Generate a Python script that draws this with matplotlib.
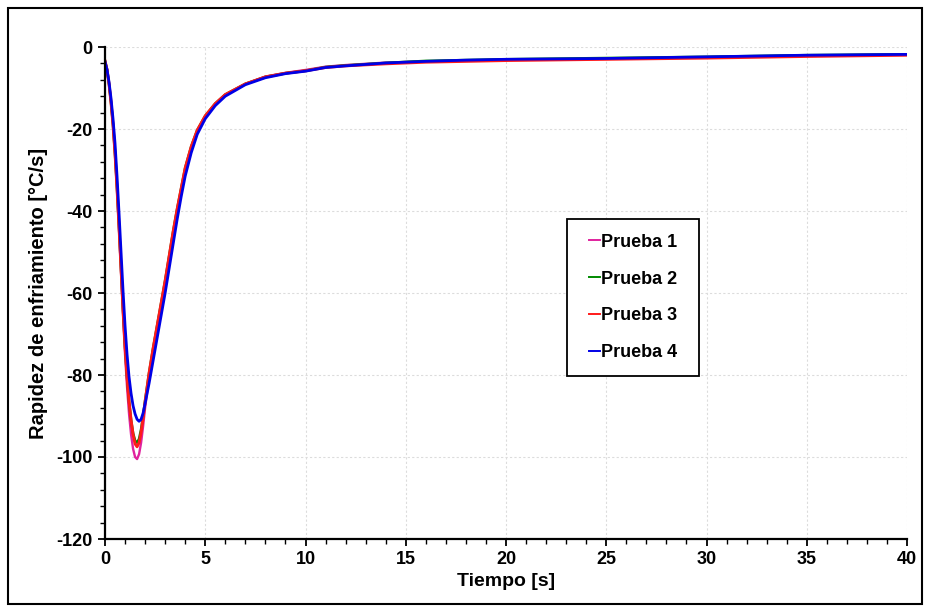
import matplotlib
matplotlib.use("Agg")
import matplotlib.pyplot as plt
from matplotlib.patches import Rectangle
from matplotlib.ticker import MultipleLocator

# Time axis shared by the four tests [s]
tiempo = [0.0, 0.1, 0.2, 0.3, 0.4, 0.5, 0.6, 0.7, 0.8, 0.9,
          1.0, 1.1, 1.2, 1.3, 1.4, 1.5, 1.6, 1.7, 1.8, 1.9,
          2.0, 2.2, 2.4, 2.6, 2.8, 3.0, 3.2, 3.4, 3.6, 3.8,
          4.0, 4.3, 4.6, 5.0, 5.5, 6.0, 7.0, 8.0, 9.0, 10.0,
          11.0, 12.0, 14.0, 16.0, 18.0, 20.0, 25.0, 30.0, 35.0, 40.0]

# Cooling rate [°C/s] for each test
prueba_1 = [-3.4, -5.5, -9.0, -13.5, -19.0, -26.0, -34.5, -44.5, -55.0, -65.5,
            -75.0, -83.0, -89.5, -94.5, -98.0, -100.0, -100.5, -99.3, -96.5, -92.5,
            -88.0, -80.5, -74.0, -68.5, -63.0, -57.5, -51.5, -45.5, -40.0, -35.0,
            -30.0, -24.6, -20.6, -17.0, -13.9, -11.7, -9.0, -7.2, -6.3, -5.6,
            -4.8, -4.4, -3.8, -3.5, -3.3, -3.1, -2.9, -2.5, -2.1, -1.8]

prueba_2 = [-3.4, -5.5, -9.0, -13.5, -19.0, -26.0, -34.5, -44.0, -54.0, -64.0,
            -73.0, -80.5, -86.5, -91.0, -94.2, -96.0, -96.5, -95.6, -93.3, -90.0,
            -86.3, -79.5, -73.5, -68.0, -62.5, -57.0, -51.0, -45.0, -39.5, -34.5,
            -29.5, -24.3, -20.3, -16.8, -13.8, -11.6, -9.0, -7.3, -6.4, -5.8,
            -4.9, -4.5, -3.9, -3.4, -3.2, -3.0, -2.7, -2.4, -2.0, -1.8]

prueba_3 = [-3.4, -5.5, -9.0, -13.5, -19.0, -26.0, -34.5, -44.0, -54.0, -64.0,
            -73.0, -80.5, -86.5, -91.0, -94.5, -96.8, -97.5, -96.5, -94.0, -90.5,
            -86.5, -79.5, -73.5, -68.0, -62.5, -57.0, -51.0, -45.0, -39.5, -34.5,
            -29.5, -24.3, -20.3, -16.8, -13.8, -11.6, -9.0, -7.3, -6.4, -5.8,
            -5.0, -4.6, -4.1, -3.7, -3.5, -3.3, -3.0, -2.7, -2.3, -2.0]

prueba_4 = [-3.6, -5.5, -8.5, -12.5, -17.5, -23.5, -31.5, -40.5, -50.0, -59.5,
            -68.0, -75.0, -80.5, -84.5, -87.5, -89.5, -90.8, -91.3, -90.8, -89.3,
            -87.0, -82.0, -76.5, -71.0, -65.5, -60.0, -54.0, -48.0, -42.0, -36.5,
            -31.5, -25.8, -21.3, -17.5, -14.3, -12.0, -9.2, -7.5, -6.5, -5.9,
            -5.0, -4.6, -3.9, -3.5, -3.2, -3.0, -2.8, -2.4, -2.0, -1.8]

series = [prueba_1, prueba_2, prueba_3, prueba_4]
etiquetas = ["Prueba 1", "Prueba 2", "Prueba 3", "Prueba 4"]
colores = ["#e0229e", "#008a00", "#ff1a1a", "#0000e6"]
grosores = [1.7, 1.9, 2.1, 2.0]

plt.rcParams["font.family"] = ["Liberation Sans", "DejaVu Sans"]
plt.rcParams["font.weight"] = "bold"
plt.rcParams["axes.unicode_minus"] = False

W, H = 930, 612
fig = plt.figure(figsize=(W / 100, H / 100), dpi=100)
ax = fig.add_axes([105 / W, 1 - 539 / H, 802 / W, 492 / H])

for valores, etiqueta, color, lw in zip(series, etiquetas, colores, grosores):
    ax.plot(tiempo, valores, color=color, lw=lw, label=etiqueta,
            solid_joinstyle="round")

ax.set_xlim(0, 40)
ax.set_ylim(-120, 0)
ax.xaxis.set_major_locator(MultipleLocator(5))
ax.xaxis.set_minor_locator(MultipleLocator(1))
ax.yaxis.set_major_locator(MultipleLocator(20))
ax.yaxis.set_minor_locator(MultipleLocator(4))

ax.grid(True, which="major", color="#dcdcdc", linestyle=(0, (2, 2)), lw=0.8)
ax.set_axisbelow(True)

for lado in ("top", "right"):
    ax.spines[lado].set_visible(False)
for lado in ("left", "bottom"):
    ax.spines[lado].set_linewidth(1.6)
    ax.spines[lado].set_color("black")

ax.tick_params(which="major", direction="out", length=5, width=1.3,
               labelsize=13, pad=4)
ax.tick_params(which="minor", direction="out", length=3.5, width=1.0)
for lbl in ax.get_xticklabels() + ax.get_yticklabels():
    lbl.set_fontweight("bold")

ax.set_xlabel("Tiempo [s]", fontsize=14, fontweight="bold", labelpad=3)
ax.set_ylabel("Rapidez de enfriamiento [°C/s]", fontsize=14.5,
              fontweight="bold", labelpad=6)

# Legend without its own frame; its box is a separate white rectangle
leg = ax.legend(loc="center", bbox_to_anchor=((633 - 105) / 802, (539 - 297.5) / 492),
                frameon=False, fontsize=13, handlelength=0.65,
                handletextpad=0.05, labelspacing=1.1, borderaxespad=0)
for txt in leg.get_texts():
    txt.set_fontweight("bold")
for linea in leg.get_lines():
    linea.set_linewidth(1.4)
leg.set_zorder(6)

caja = Rectangle((567 / W, 1 - 376 / H), 132 / W, 157 / H,
                 transform=fig.transFigure, fill=True, facecolor="white",
                 edgecolor="black", lw=1.3, zorder=5, clip_on=False)
ax.add_patch(caja)

# Outer frame around the whole figure
fig.patches.append(Rectangle((8 / W, 8 / H), 914 / W, 596 / H,
                             transform=fig.transFigure, fill=False,
                             edgecolor="black", lw=1.5))

fig.savefig("out.png", dpi=100)
